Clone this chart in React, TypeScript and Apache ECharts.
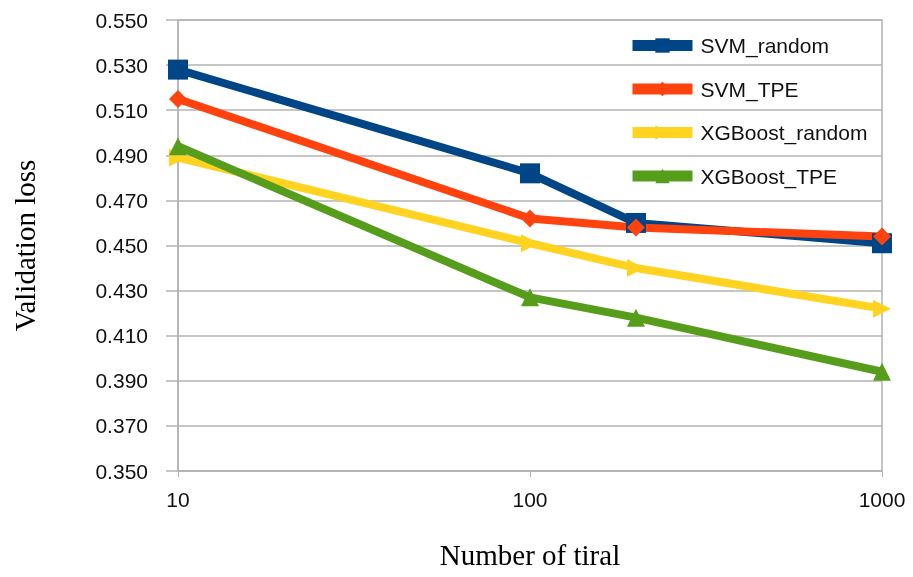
import React, { useEffect, useRef } from "react";
import * as echarts from "echarts";

const trials = [10, 100, 200, 1000];
const svmRandom = [0.528, 0.482, 0.46, 0.451];
const svmTPE = [0.515, 0.462, 0.458, 0.454];
const xgbRandom = [0.489, 0.451, 0.44, 0.422];
const xgbTPE = [0.494, 0.427, 0.418, 0.394];
const seriesNames = ["SVM_random", "SVM_TPE", "XGBoost_random", "XGBoost_TPE"];
const colors = ["#004586", "#ff420e", "#ffd320", "#579d1c"];

export default function App() {
  const ref = useRef<HTMLDivElement>(null);
  useEffect(() => {
    const chart = echarts.init(ref.current!, null, { renderer: "svg" });
    const all = [svmRandom, svmTPE, xgbRandom, xgbTPE];
    const symbols = ["rect", "diamond", "triangle", "triangle"];
    const sizes = [20, 18, 18, 18];
    const rotates = [0, 0, -90, 0];
    chart.setOption({
      animation: false,
      color: colors,
      grid: { left: 178, right: 31, top: 20, bottom: 106, show: true, borderColor: "#b3b3b3", borderWidth: 1.5 },
      legend: {
        orient: "vertical",
        left: 622,
        top: 30,
        itemWidth: 60,
        itemHeight: 18,
        itemGap: 22.5,
        lineStyle: { width: 11 },
        textStyle: { fontFamily: "Liberation Sans", fontSize: 21, color: "#111", padding: [0, 0, 0, 3] },
        data: seriesNames,
      },
      xAxis: {
        type: "log",
        logBase: 10,
        min: 10,
        max: 1000,
        name: "Number of tiral",
        nameLocation: "middle",
        nameGap: 69,
        nameTextStyle: { fontFamily: "Liberation Serif", fontSize: 29, color: "#000" },
        axisLine: { show: true, lineStyle: { color: "#b3b3b3", width: 1.5 } },
        axisTick: { show: true, length: 6, lineStyle: { color: "#b3b3b3" } },
        minorTick: { show: false },
        splitLine: { show: false },
        axisLabel: {
          fontFamily: "Liberation Sans",
          fontSize: 21,
          color: "#111",
          margin: 18,
          formatter: (v: number) => String(Math.round(v)),
        },
      },
      yAxis: {
        type: "value",
        min: 0.35,
        max: 0.55,
        interval: 0.02,
        name: "Validation loss",
        nameLocation: "middle",
        nameGap: 139,
        nameTextStyle: { fontFamily: "Liberation Serif", fontSize: 29, color: "#000" },
        axisLine: { show: true, lineStyle: { color: "#b3b3b3", width: 1.5 } },
        axisTick: { show: true, length: 12, lineStyle: { color: "#b3b3b3", width: 1.5 } },
        splitLine: { show: true, lineStyle: { color: "#b3b3b3", width: 1.5 } },
        axisLabel: {
          fontFamily: "Liberation Sans",
          fontSize: 21,
          color: "#111",
          margin: 30,
          formatter: (v: number) => v.toFixed(3),
        },
      },
      series: all.map((d, i) => ({
        name: seriesNames[i],
        type: "line",
        data: trials.map((t, j) => [t, d[j]]),
        symbol: symbols[i],
        symbolSize: sizes[i],
        symbolRotate: rotates[i],
        lineStyle: { width: 8, color: colors[i] },
        itemStyle: { color: colors[i] },
      })),
    });
    return () => chart.dispose();
  }, []);
  return <div ref={ref} style={{ position: "fixed", left: 0, top: 0, width: 913, height: 577 }} />;
}
